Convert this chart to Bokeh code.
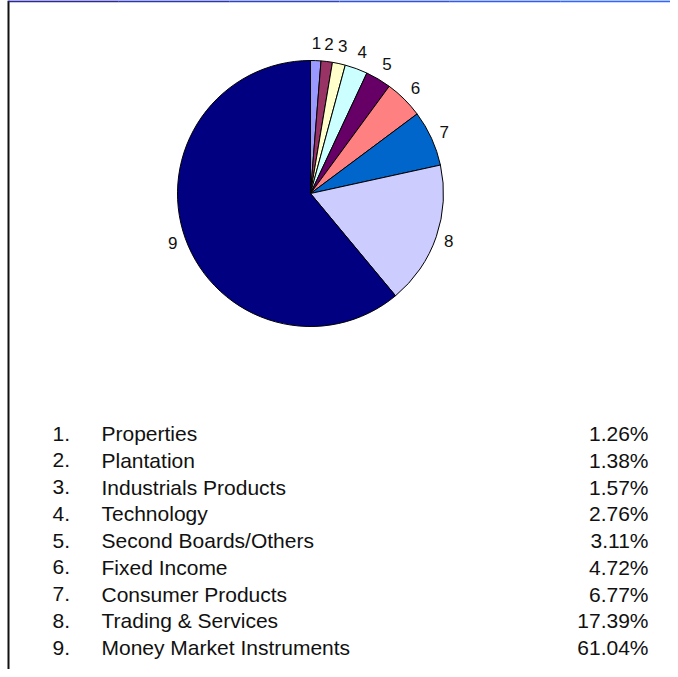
import math
from bokeh.plotting import figure
from bokeh.models import Range1d, ColumnDataSource
from bokeh.core.properties import value
from bokeh.embed import file_html
from bokeh.resources import INLINE

# ---- data ----
numbers = ["1", "2", "3", "4", "5", "6", "7", "8", "9"]
sectors = ["Properties", "Plantation", "Industrials Products", "Technology",
           "Second Boards/Others", "Fixed Income", "Consumer Products",
           "Trading & Services", "Money Market Instruments"]
percents = [1.26, 1.38, 1.57, 2.76, 3.11, 4.72, 6.77, 17.39, 61.04]
colors = ["#9999FF", "#993366", "#FFFFCC", "#CCFFFF", "#660066",
          "#FF8080", "#0066CC", "#CCCCFF", "#000080"]

W, H = 670, 669
FONT = "Liberation Sans"

def fy(page_y):
    return H - page_y

def fx(page_x):
    return page_x

p = figure(width=W, height=H, output_backend="svg", toolbar_location=None,
           x_range=Range1d(0, W), y_range=Range1d(0, H),
           x_axis_type=None, y_axis_type=None,
           min_border=0, min_border_left=0, min_border_right=0,
           min_border_top=0, min_border_bottom=0)
p.grid.visible = False
p.outline_line_color = None
p.background_fill_color = "white"
p.border_fill_color = "white"

# ---- frame lines ----
p.segment(x0=[fx(8)], y0=[0], x1=[fx(8)], y1=[H], line_color="#111111", line_width=2)
grad = ["#2a2a9a", "#2c36b0", "#2e44c8", "#3052dc", "#335cee", "#3366ff"]
n = len(grad)
p.segment(x0=[fx(8) + i * (W - 8) / n for i in range(n)], y0=[H - 0.8] * n,
          x1=[fx(8) + (i + 1) * (W - 8) / n for i in range(n)], y1=[H - 0.8] * n,
          line_color=grad, line_width=2)

# ---- pie ----
cx, cy, R = fx(310), fy(193), 133
total = sum(percents)
starts, ends, mids = [], [], []
acc = 0.0
for v in percents:
    s = acc / total
    acc += v
    e = acc / total
    starts.append(math.pi / 2 - s * 2 * math.pi)
    ends.append(math.pi / 2 - e * 2 * math.pi)
    mids.append((s + e) / 2 * 2 * math.pi)  # clockwise from top

src = ColumnDataSource(dict(start=starts, end=ends, color=colors))
p.wedge(x=cx, y=cy, radius=R, start_angle="start", end_angle="end",
        direction="clock", fill_color="color", line_color="black",
        line_width=1, source=src)

lx, ly = [], []
for t in mids:
    r = 144 + 7 * abs(math.cos(t))
    lx.append(cx + r * math.sin(t))
    ly.append(cy + r * math.cos(t))
p.text(x=lx, y=ly, text=numbers, text_font=value(FONT),
       text_font_size=value("17px"), text_align="center",
       text_baseline="middle", text_color="#111111")

# ---- table ----
base0, step = 433, 26.75
rows_y = [fy(base0 + i * step) for i in range(len(sectors))]
fs = value("21px")
p.text(x=[fx(52)] * len(numbers), y=rows_y, text=[s + "." for s in numbers],
       text_font=value(FONT), text_font_size=fs,
       text_align="left", text_baseline="alphabetic", text_color="#111111")
p.text(x=[fx(101)] * len(sectors), y=rows_y, text=sectors,
       text_font=value(FONT), text_font_size=fs,
       text_align="left", text_baseline="alphabetic", text_color="#111111")
p.text(x=[fx(648)] * len(percents), y=rows_y,
       text=[f"{v:.2f}%" for v in percents],
       text_font=value(FONT), text_font_size=fs,
       text_align="right", text_baseline="alphabetic", text_color="#111111")

open("out.html", "w").write(file_html(p, INLINE))
